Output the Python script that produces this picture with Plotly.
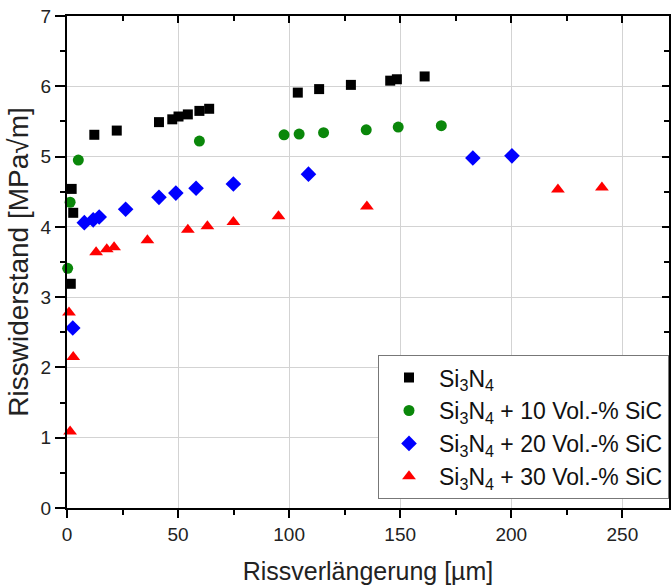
import plotly.graph_objects as go

# Data
si3n4_x = [1.7, 2.8, 2.1, 12.3, 22.4, 41.4, 47.4, 50.2, 54.4, 59.6, 64.0, 103.9, 113.5, 127.8, 145.5, 148.5, 161.0]
si3n4_y = [3.19, 4.20, 4.54, 5.31, 5.37, 5.49, 5.53, 5.57, 5.60, 5.65, 5.68, 5.91, 5.96, 6.02, 6.08, 6.10, 6.14]

sic10_x = [0.3, 1.4, 5.1, 59.6, 97.7, 104.5, 115.5, 134.7, 149.1, 168.5]
sic10_y = [3.41, 4.35, 4.95, 5.22, 5.31, 5.32, 5.34, 5.38, 5.42, 5.44]

sic20_x = [2.6, 7.8, 11.8, 14.5, 26.4, 41.4, 49.0, 58.1, 74.9, 108.7, 182.7, 200.3]
sic20_y = [2.56, 4.06, 4.10, 4.14, 4.25, 4.42, 4.48, 4.55, 4.61, 4.75, 4.98, 5.01]

sic30_x = [0.9, 2.8, 1.4, 13.1, 17.9, 21.2, 36.2, 54.4, 63.2, 74.9, 95.2, 135.0, 221.0, 240.8]
sic30_y = [2.78, 2.15, 1.09, 3.64, 3.68, 3.71, 3.81, 3.96, 4.01, 4.07, 4.15, 4.29, 4.53, 4.56]

names = ["Si<sub>3</sub>N<sub>4</sub>",
         "Si<sub>3</sub>N<sub>4</sub> + 10 Vol.-% SiC",
         "Si<sub>3</sub>N<sub>4</sub> + 20 Vol.-% SiC",
         "Si<sub>3</sub>N<sub>4</sub> + 30 Vol.-% SiC"]

x_title = "Rissverlängerung [µm]"
y_title = "Risswiderstand [MPa√m]"

FONT = "Liberation Sans, Arial, sans-serif"

fig = go.Figure()
series = [
    (si3n4_x, si3n4_y, "square", "#000000", 10),
    (sic10_x, sic10_y, "circle", "#0a870a", 11),
    (sic20_x, sic20_y, "diamond", "#0000ff", 12),
    (sic30_x, sic30_y, "triangle-up", "#ff0000", 12),
]
for i, (xs, ys, sym, col, sz) in enumerate(series):
    fig.add_trace(go.Scatter(
        x=xs, y=ys, mode="markers", name=names[i], legendgroup=f"g{i}",
        marker=dict(symbol=sym, color=col, size=sz, line=dict(width=0)),
        cliponaxis=False,
    ))

XR = [0, 271]
YR = [0, 7]

fig.update_layout(
    width=671, height=585,
    margin=dict(l=67, r=2, t=16, b=77, autoexpand=False),
    paper_bgcolor="white", plot_bgcolor="white",
    font=dict(family=FONT, color="#111111", size=19),
    showlegend=True,
    legend=dict(
        x=1, xanchor="right", y=0.018, yanchor="bottom",
        bgcolor="white", bordercolor="#777777", borderwidth=1,
        font=dict(family=FONT, size=23, color="#111111"),
        itemwidth=50, tracegroupgap=0,
    ),
    xaxis=dict(
        range=XR, dtick=50, tick0=0, automargin=False,
        showline=True, linecolor="black", linewidth=2, mirror=True,
        ticks="outside", ticklen=8, tickwidth=2, tickcolor="black",
        minor=dict(dtick=25, ticks="outside", ticklen=5, tickwidth=2, tickcolor="black", showgrid=False),
        showgrid=True, gridcolor="#d3d3d3", gridwidth=1,
        zeroline=False,
        tickfont=dict(size=19, color="#222222"),
        title=dict(text=x_title, font=dict(size=25, color="#222222"), standoff=19),
    ),
    yaxis=dict(
        range=YR, dtick=1, tick0=0, automargin=False,
        showline=True, linecolor="black", linewidth=2, mirror=True,
        ticks="outside", ticklen=10, tickwidth=2, tickcolor="black",
        minor=dict(dtick=0.5, ticks="outside", ticklen=5, tickwidth=2, tickcolor="black", showgrid=False),
        showgrid=True, gridcolor="#d3d3d3", gridwidth=1,
        zeroline=False,
        tickfont=dict(size=19, color="#222222"),
        title=dict(text=y_title, font=dict(size=28, color="#222222"), standoff=4),
    ),
    xaxis2=dict(
        overlaying="x", side="top", anchor="y", range=XR, dtick=50, tick0=0, automargin=False,
        ticks="inside", ticklen=7, tickwidth=2, tickcolor="black",
        minor=dict(dtick=25, ticks="inside", ticklen=5, tickwidth=2, tickcolor="black", showgrid=False),
        showticklabels=False, showgrid=False, zeroline=False, showline=False,
    ),
    yaxis2=dict(
        overlaying="y", side="right", anchor="x", range=YR, dtick=1, tick0=0, automargin=False,
        ticks="inside", ticklen=7, tickwidth=2, tickcolor="black",
        minor=dict(dtick=0.5, ticks="inside", ticklen=5, tickwidth=2, tickcolor="black", showgrid=False),
        showticklabels=False, showgrid=False, zeroline=False, showline=False,
    ),
)

# invisible trace to activate the mirror tick axes
fig.add_trace(go.Scatter(x=[None], y=[None], xaxis="x2", yaxis="y2",
                         showlegend=False, hoverinfo="skip"))

fig.write_html("out.html",
               config={"displayModeBar": False},
               post_script="document.body.style.margin='0';document.body.style.overflow='hidden';")
